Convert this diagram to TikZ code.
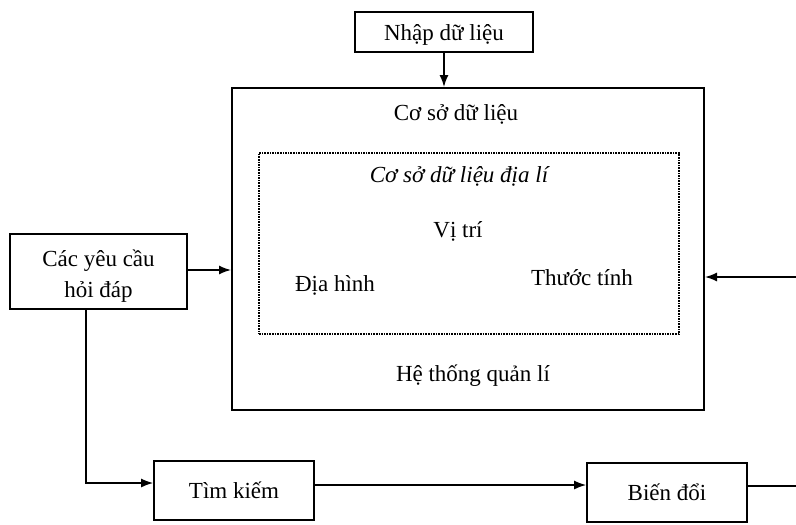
\documentclass[tikz,border=0pt]{standalone}
\usepackage{fontspec}
\setmainfont{Liberation Serif}
\usetikzlibrary{arrows.meta}
\begin{document}
\begin{tikzpicture}[x=1pt,y=-1pt,
  font=\fontsize{23}{27}\selectfont,
  box/.style={draw, line width=1.7pt, minimum width=#1, inner sep=0pt},
  lbl/.style={inner sep=0pt, anchor=base},
  link/.style={line width=1.5pt, -{Latex[length=12pt,width=9pt]}},
  plain/.style={line width=1.5pt}]
\useasboundingbox (0,0) rectangle (796,525);

% boxes
\node[box=178pt, minimum height=40pt] (nhap) at (444,32) {};
\node[box=472pt, minimum height=322pt, line width=2pt] (csdl) at (468,249) {};
\node[draw, densely dotted, line width=1.6pt, minimum width=420pt, minimum height=181pt, inner sep=0pt] (dl) at (469,243.5) {};
\node[box=177pt, minimum height=75pt] (hoi) at (98.5,271.5) {};
\node[box=160pt, minimum height=59pt] (tim) at (234,490.5) {};
\node[box=160pt, minimum height=59pt] (bien) at (667,492.5) {};

% labels
\node[lbl] (tnhap) at (444,40) {Nhập dữ liệu};
\node[lbl] (tcsdl) at (456,120) {Cơ sở dữ liệu};
\node[lbl] (tdl) at (459,182) {\itshape Cơ sở dữ liệu địa lí};
\node[lbl] (tvitri) at (458,237) {Vị trí};
\node[lbl] (tdh) at (335,291) {Địa hình};
\node[lbl] (ttt) at (582,285) {Thước tính};
\node[lbl] (tht) at (473,381) {Hệ thống quản lí};
\node[lbl] (th1) at (98.5,266) {Các yêu cầu};
\node[lbl] (th2) at (98.5,297) {hỏi đáp};
\node[lbl] (ttim) at (234,498) {Tìm kiếm};
\node[lbl] (tbien) at (667,500) {Biến đổi};

% connectors
\coordinate (inR) at (796,277);
\coordinate (outR) at (796,486);
\coordinate (down) at (86,483);

\draw[link] (nhap.south) -- (csdl.north -| nhap.south);
\draw[link] (hoi.east |- 0,270) -- (csdl.west |- 0,270);
\draw[link] (hoi.south -| down) -- (down) -- (tim.west |- down);
\draw[link] (tim.east |- 0,485) -- (bien.west |- 0,485);
\draw[link] (inR) -- (csdl.east |- inR);
\draw[plain] (bien.east |- outR) -- (outR);
\end{tikzpicture}
\end{document}
